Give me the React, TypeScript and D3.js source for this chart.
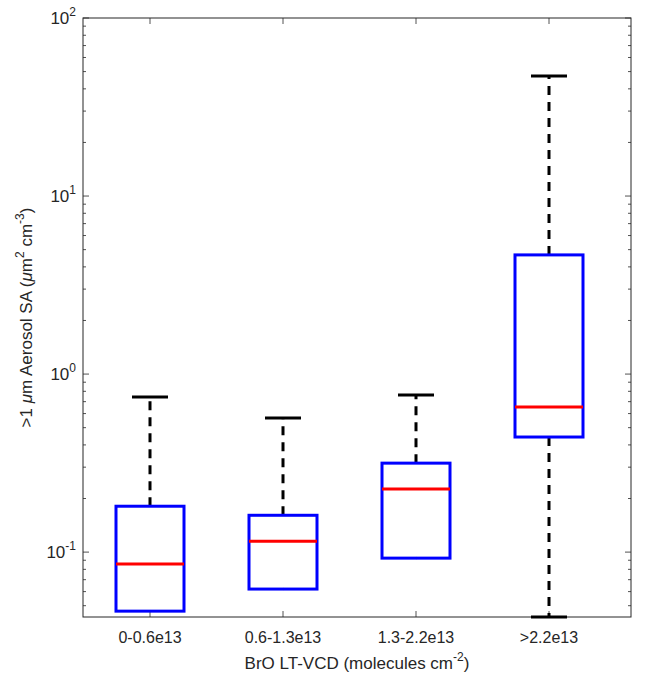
import React from 'react';
import * as d3 from 'd3';

const categories = ['0-0.6e13', '0.6-1.3e13', '1.3-2.2e13', '>2.2e13'];
const whiskerLow = [0.0466, 0.062, 0.0925, 0.0432];
const q1 = [0.0466, 0.062, 0.0925, 0.443];
const median = [0.0857, 0.115, 0.226, 0.653];
const q3 = [0.181, 0.161, 0.316, 4.67];
const whiskerHigh = [0.743, 0.566, 0.762, 47.2];
const decadeTicks = [0.1, 1, 10, 100];

const W = 653, H = 687;
const left = 83, right = 631, top = 18, bottom = 617;

const App: React.FC = () => {
  const y = d3.scaleLog().domain([0.0432, 100]).range([bottom, top]);
  const x = d3.scalePoint<string>().domain(categories).range([150, 549]);
  const minor: number[] = [];
  for (let e = -2; e < 2; e++) for (let k = 2; k <= 9; k++) {
    const v = k * Math.pow(10, e);
    if (v >= 0.0432 && v <= 100) minor.push(v);
  }
  const font = '"Liberation Sans", Arial, sans-serif';
  const hw = 34, cap = 18;
  return (
    <svg width={W} height={H} style={{ position: 'absolute', left: 0, top: 0 }} fontFamily={font}>
      <rect width={W} height={H} fill="#fff" />
      {minor.map((v, i) => (
        <g key={'m' + i} stroke="#262626" strokeWidth={0.8}>
          <line x1={left} x2={left + 3} y1={y(v)} y2={y(v)} />
          <line x1={right} x2={right - 3} y1={y(v)} y2={y(v)} />
        </g>
      ))}
      {decadeTicks.map((v, i) => (
        <g key={'d' + i}>
          <line x1={left} x2={left + 6} y1={y(v)} y2={y(v)} stroke="#262626" strokeWidth={0.8} />
          <line x1={right} x2={right - 6} y1={y(v)} y2={y(v)} stroke="#262626" strokeWidth={0.8} />
          <text x={left - 7} y={y(v) + 6} textAnchor="end" fontSize={17} fill="#262626">
            10<tspan dy={-8} fontSize={12}>{Math.round(Math.log10(v))}</tspan>
          </text>
        </g>
      ))}
      {categories.map((c, i) => (
        <g key={c}>
          <line x1={x(c)} x2={x(c)} y1={bottom} y2={bottom - 6} stroke="#262626" strokeWidth={0.8} />
          <line x1={x(c)} x2={x(c)} y1={top} y2={top + 6} stroke="#262626" strokeWidth={0.8} />
          <text x={x(c)} y={bottom + 26} textAnchor="middle" fontSize={16} fill="#262626">{c}</text>
        </g>
      ))}
      <rect x={left} y={top} width={right - left} height={bottom - top} fill="none" stroke="#262626" strokeWidth={1} />
      {categories.map((c, i) => {
        const cx = x(c)!;
        return (
          <g key={'b' + i}>
            <line x1={cx} x2={cx} y1={y(q3[i])} y2={y(whiskerHigh[i])} stroke="#000" strokeWidth={3} strokeDasharray="9,7" />
            <line x1={cx} x2={cx} y1={y(q1[i])} y2={y(whiskerLow[i])} stroke="#000" strokeWidth={3} strokeDasharray="9,7" />
            <line x1={cx - cap} x2={cx + cap} y1={y(whiskerHigh[i])} y2={y(whiskerHigh[i])} stroke="#000" strokeWidth={3} />
            {whiskerLow[i] < q1[i] && (
              <line x1={cx - cap} x2={cx + cap} y1={y(whiskerLow[i])} y2={y(whiskerLow[i])} stroke="#000" strokeWidth={3} />
            )}
            <rect x={cx - hw} y={y(q3[i])} width={2 * hw} height={y(q1[i]) - y(q3[i])} fill="none" stroke="#0000ff" strokeWidth={3} />
            <line x1={cx - hw} x2={cx + hw} y1={y(median[i])} y2={y(median[i])} stroke="#ff0000" strokeWidth={3} />
          </g>
        );
      })}
      <text x={357} y={669} textAnchor="middle" fontSize={17} fill="#262626">
        BrO LT-VCD (molecules cm<tspan dy={-8} fontSize={12}>-2</tspan><tspan dy={8}>)</tspan>
      </text>
      <text transform={`translate(32,${(top + bottom) / 2}) rotate(-90)`} textAnchor="middle" fontSize={17} fill="#262626">
        {'>1 '}<tspan fontStyle="italic">μ</tspan>m Aerosol SA (<tspan fontStyle="italic">μ</tspan>m<tspan dy={-8} fontSize={12}>2</tspan><tspan dy={8}> cm</tspan><tspan dy={-8} fontSize={12}>-3</tspan><tspan dy={8}>)</tspan>
      </text>
    </svg>
  );
};

export default App;
